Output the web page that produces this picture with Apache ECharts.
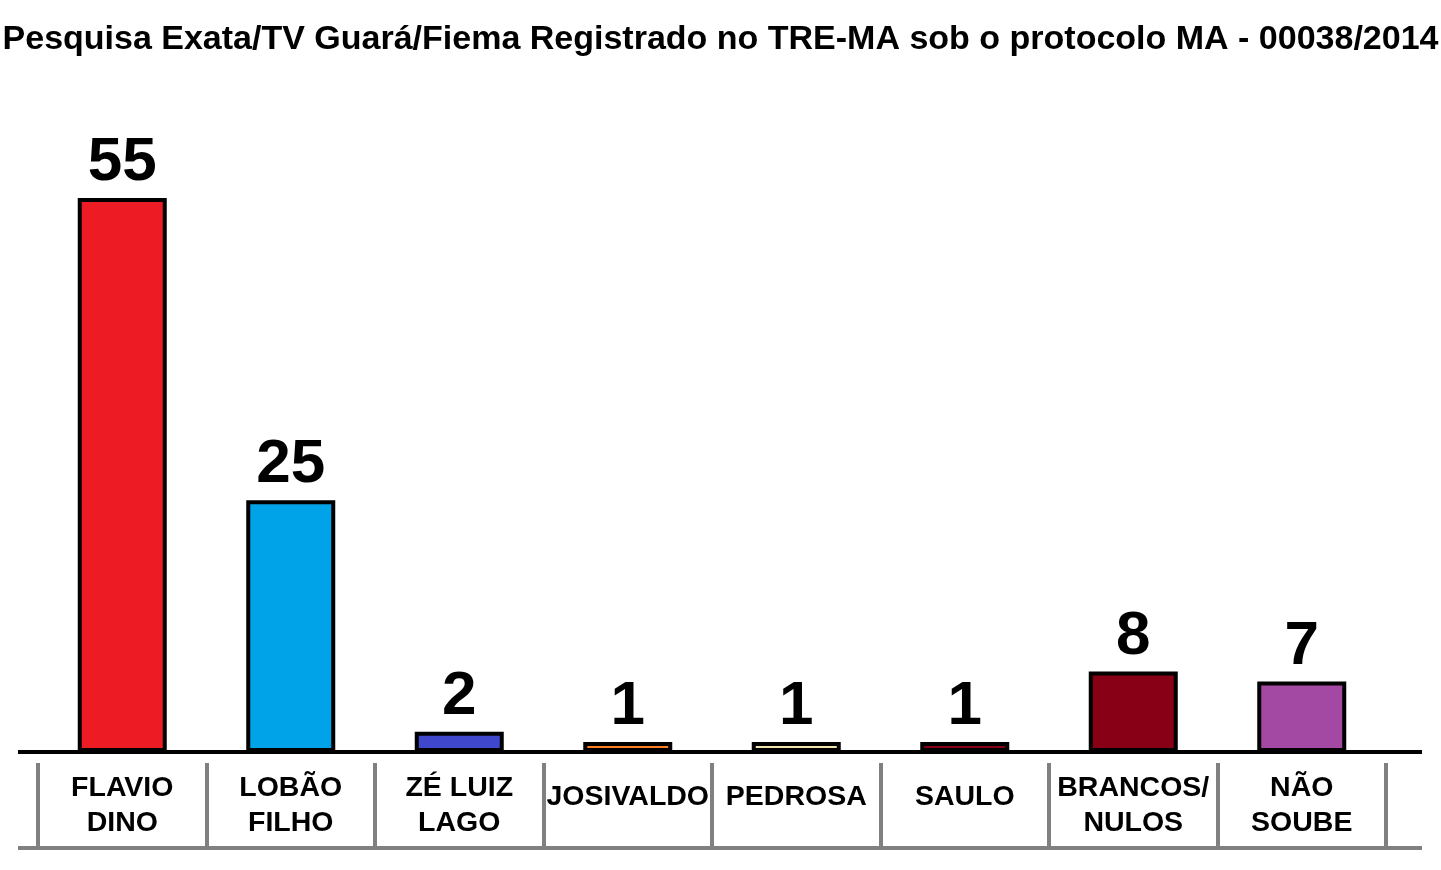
<!DOCTYPE html>
<html>
<head>
<meta charset="utf-8">
<script src="https://cdn.jsdelivr.net/npm/echarts@6/dist/echarts.min.js"></script>
<style>
html,body{margin:0;padding:0;background:#fff;}
#chart{width:1441px;height:870px;}
</style>
</head>
<body>
<div id="chart"></div>
<script>
const titleText = 'Pesquisa Exata/TV Guará/Fiema Registrado no TRE-MA sob o protocolo MA - 00038/2014';
const categories = ['FLAVIO\nDINO', 'LOBÃO\nFILHO', 'ZÉ LUIZ\nLAGO', 'JOSIVALDO', 'PEDROSA', 'SAULO', 'BRANCOS/\nNULOS', 'NÃO\nSOUBE'];
const values = [55, 25, 2, 1, 1, 1, 8, 7];
const colors = ['#ED1C24', '#00A2E8', '#3F48CC', '#FF7F27', '#EFE4B0', '#880015', '#880015', '#A349A4'];

const FONT = '"Liberation Sans", Arial, sans-serif';
const chart = echarts.init(document.getElementById('chart'), null, {renderer: 'canvas'});

const option = {
  backgroundColor: '#ffffff',
  animation: false,
  title: {
    text: titleText,
    left: 'center',
    top: 18,
    textStyle: {fontFamily: FONT, fontWeight: 'bold', fontSize: 34, color: '#000'}
  },
  grid: {left: 38, right: 55, top: 198, bottom: 118, containLabel: false},
  xAxis: [{
    type: 'category',
    data: categories.map(c => ({
      value: c,
      textStyle: c.indexOf('\n') < 0 ? {padding: [9, 0, 0, 0]} : {}
    })),
    axisLine: {show: false},
    axisTick: {show: false},
    axisLabel: {
      interval: 0,
      margin: 19,
      fontFamily: FONT, fontWeight: 'bold', fontSize: 28.5, lineHeight: 35, color: '#000'
    }
  }, {
    type: 'category',
    position: 'bottom',
    offset: 11,
    data: categories,
    axisLine: {show: false},
    axisTick: {show: true, length: 85, lineStyle: {color: '#808080', width: 4}},
    axisLabel: {show: false}
  }],
  yAxis: {
    type: 'value', min: 0, max: 55, show: false,
    splitLine: {show: false}
  },
  series: [{
    type: 'bar',
    data: values.map((v, i) => ({value: v, itemStyle: {color: colors[i]}})),
    barWidth: 89,
    itemStyle: {borderColor: '#000', borderWidth: 4},
    label: {
      show: true, position: 'top', distance: 4,
      fontFamily: FONT, fontWeight: 'bold', fontSize: 62, color: '#000'
    }
  }]
};
chart.setOption(option);

const y0 = chart.convertToPixel({yAxisIndex: 0}, 0);
chart.setOption({
  graphic: [
    {type: 'line', shape: {x1: 18, y1: y0, x2: 1422, y2: y0}, style: {stroke: '#000', lineWidth: 4}, z: 10},
    {type: 'line', shape: {x1: 18, y1: y0 + 96, x2: 1422, y2: y0 + 96}, style: {stroke: '#808080', lineWidth: 4}, z: 10}
  ]
});
</script>
</body>
</html>
